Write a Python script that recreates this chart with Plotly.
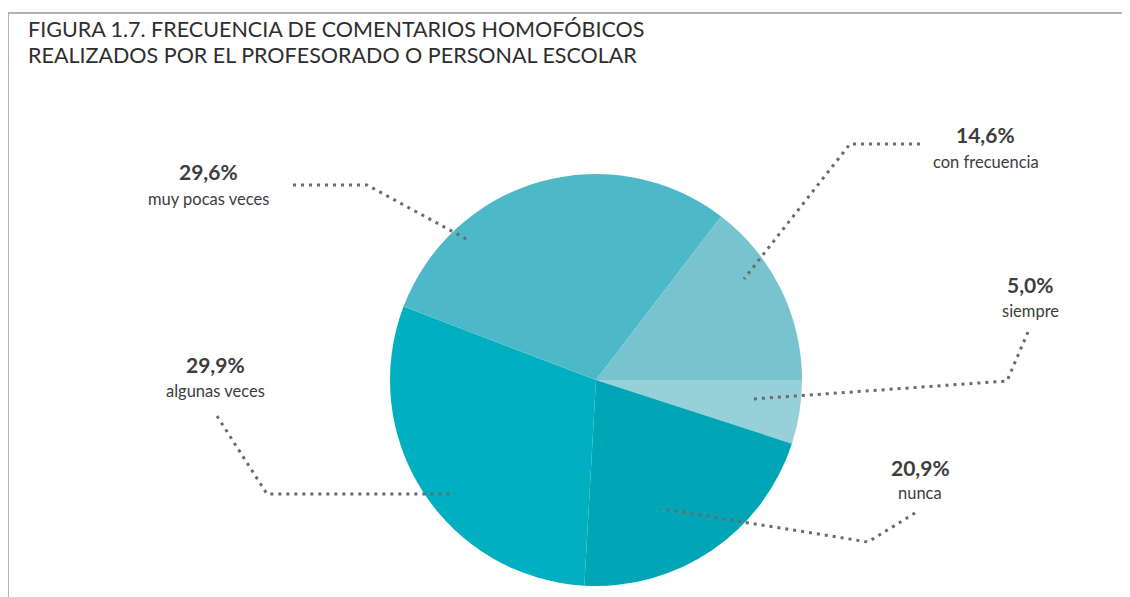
import plotly.graph_objects as go

W, H = 1130, 597

categories = ["siempre", "nunca", "algunas veces", "muy pocas veces", "con frecuencia"]
values = [5.0, 20.9, 29.9, 29.6, 14.6]
value_labels = ["5,0%", "20,9%", "29,9%", "29,6%", "14,6%"]
colors = ["#97D0D9", "#00A5B6", "#00B0C0", "#4DB9C8", "#77C4CF"]

title_lines = ["FIGURA 1.7. FRECUENCIA DE COMENTARIOS HOMOFÓBICOS",
               "REALIZADOS POR EL PROFESORADO O PERSONAL ESCOLAR"]

# the page body adds an 8px margin; compensate so page pixels match
OFF = 8

def px(x):
    return (x - OFF) / W

def py(y):
    return 1 - (y - OFF) / H

cx, cy, r = 596, 380, 206

fig = go.Figure(go.Pie(
    labels=categories,
    values=values,
    marker=dict(colors=colors, line=dict(width=0)),
    sort=False,
    direction="clockwise",
    rotation=90,
    textinfo="none",
    hoverinfo="label+percent",
    showlegend=False,
    domain=dict(x=[px(cx - r), px(cx + r)], y=[py(cy + r), py(cy - r)]),
))

# label placement (page pixels): percent centre, name centre, leader polyline
label_layout = {
    "muy pocas veces": dict(p=(208, 172), n=(208, 199), path=[(293, 185), (367, 185), (470, 241)]),
    "con frecuencia": dict(p=(985, 134), n=(986, 162), path=[(920, 144), (850, 144), (744, 279)]),
    "siempre": dict(p=(1030, 284), n=(1030, 311), path=[(1028, 332), (1007, 381), (753, 399)]),
    "algunas veces": dict(p=(215, 364), n=(215, 391), path=[(217, 416), (267, 494), (455, 494)]),
    "nunca": dict(p=(920, 467), n=(920, 493), path=[(915, 513), (868, 542), (662, 509)]),
}

annotations = []
shapes = []
for cat, lab in zip(categories, value_labels):
    L = label_layout[cat]
    annotations.append(dict(x=px(L["p"][0]), y=py(L["p"][1]), xref="paper", yref="paper",
                            text=f"<b>{lab}</b>", showarrow=False, xanchor="center", yanchor="middle",
                            font=dict(family="Lato", size=21, color="#3d3d3d")))
    annotations.append(dict(x=px(L["n"][0]), y=py(L["n"][1]), xref="paper", yref="paper",
                            text=cat, showarrow=False, xanchor="center", yanchor="middle",
                            font=dict(family="Lato", size=16.5, color="#3d3d3d")))
    pts = L["path"]
    d = "M " + " L ".join(f"{px(x)},{py(y)}" for x, y in pts)
    shapes.append(dict(type="path", path=d, xref="paper", yref="paper",
                       line=dict(color="#6b6b6b", width=3, dash="3px,5px")))

# title
for i, t in enumerate(title_lines):
    annotations.append(dict(x=px(26), y=py(29 + i * 26), xref="paper", yref="paper",
                            text=t, showarrow=False, xanchor="left", yanchor="middle",
                            font=dict(family="Lato", size=21.5, color="#2e2e2e")))

# frame lines
shapes.append(dict(type="line", xref="paper", yref="paper", x0=px(8), x1=1, y0=py(13), y1=py(13),
                   line=dict(color="#9a9a9a", width=1.5)))
shapes.append(dict(type="line", xref="paper", yref="paper", x0=px(8), x1=px(8), y0=py(13), y1=0,
                   line=dict(color="#9a9a9a", width=1.5)))

fig.update_layout(
    width=W, height=H,
    margin=dict(l=0, r=0, t=0, b=0),
    paper_bgcolor="white",
    plot_bgcolor="white",
    annotations=annotations,
    shapes=shapes,
)

fig.write_html("out.html")
